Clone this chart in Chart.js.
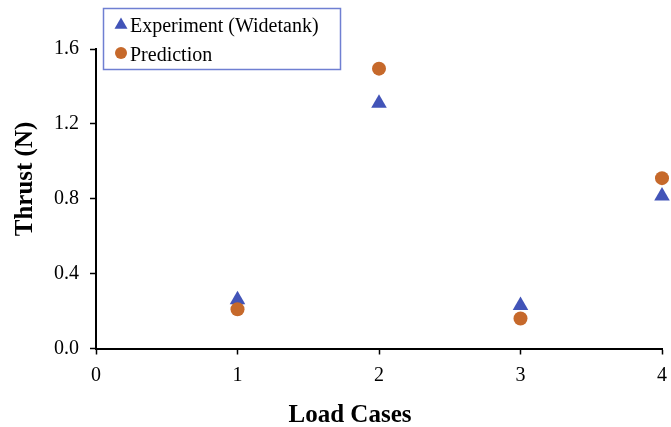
<!DOCTYPE html>
<html>
<head>
<meta charset="utf-8">
<script src="https://cdn.jsdelivr.net/npm/chart.js@4/dist/chart.umd.min.js"></script>
<style>
html,body{margin:0;padding:0;background:#fff;}
#wrap{width:671px;height:427px;position:relative;}
</style>
</head>
<body>
<div id="wrap"><canvas id="c" width="671" height="427"></canvas></div>
<script>
const loadCases = [1, 2, 3, 4];
const experimentThrust = [0.26, 1.31, 0.23, 0.815];
const predictionThrust = [0.21, 1.495, 0.16, 0.91];
const seriesLabels = ['Experiment (Widetank)', 'Prediction'];
const xTitle = 'Load Cases';
const yTitle = 'Thrust (N)';

const BLUE = '#4254B8';
const ORANGE = '#C6692B';
const FONT = "'Liberation Serif', 'Times New Roman', serif";

const overlay = {
  id: 'overlay',
  afterDraw(chart) {
    const ctx = chart.ctx;
    ctx.save();
    // axis titles
    ctx.fillStyle = '#000';
    ctx.font = 'bold 25px ' + FONT;
    ctx.textAlign = 'center';
    ctx.textBaseline = 'alphabetic';
    ctx.fillText(xTitle, 350, 422);
    ctx.save();
    ctx.translate(32, 179);
    ctx.rotate(-Math.PI / 2);
    ctx.fillText(yTitle, 0, 0);
    ctx.restore();
    // legend box
    ctx.fillStyle = '#fff';
    ctx.fillRect(103, 8, 237, 61);
    ctx.strokeStyle = '#6F7FD2';
    ctx.lineWidth = 1.5;
    ctx.strokeRect(103.5, 8.5, 237, 61);
    const ds = chart.data.datasets;
    const items = [
      {ds: ds.find(d => d.label === seriesLabels[0]), y: 25, ty: 32},
      {ds: ds.find(d => d.label === seriesLabels[1]), y: 53, ty: 61}
    ];
    items.forEach(it => {
      ctx.fillStyle = it.ds.backgroundColor;
      ctx.beginPath();
      if (it.ds.pointStyle === 'triangle') {
        const r = 7.5;
        ctx.moveTo(121, it.y - r);
        ctx.lineTo(121 + r * 0.866, it.y + r / 2);
        ctx.lineTo(121 - r * 0.866, it.y + r / 2);
      } else {
        ctx.arc(121, it.y, 6, 0, Math.PI * 2);
      }
      ctx.closePath();
      ctx.fill();
      ctx.fillStyle = '#000';
      ctx.font = '20px ' + FONT;
      ctx.textAlign = 'left';
      ctx.fillText(it.ds.label, 130, it.ty);
    });
    ctx.restore();
  }
};

new Chart(document.getElementById('c'), {
  type: 'scatter',
  data: {
    datasets: [
      {
        label: seriesLabels[0],
        data: loadCases.map((x, i) => ({x, y: experimentThrust[i]})),
        pointStyle: 'triangle',
        pointRadius: 9,
        pointHoverRadius: 9,
        backgroundColor: BLUE,
        borderColor: BLUE,
        borderWidth: 0,
        clip: false,
        order: 2
      },
      {
        label: seriesLabels[1],
        data: loadCases.map((x, i) => ({x, y: predictionThrust[i]})),
        pointStyle: 'circle',
        pointRadius: 7,
        pointHoverRadius: 7,
        backgroundColor: ORANGE,
        borderColor: ORANGE,
        borderWidth: 0,
        clip: false,
        order: 1
      }
    ]
  },
  options: {
    responsive: false,
    animation: false,
    layout: {padding: {top: 49, right: 8, left: 0, bottom: 0}},
    plugins: {legend: {display: false}, tooltip: {enabled: false}},
    scales: {
      x: {
        type: 'linear',
        min: 0, max: 4,
        ticks: {stepSize: 1, color: '#000', font: {family: FONT, size: 20}, padding: 9},
        grid: {drawOnChartArea: false, drawTicks: true, tickLength: 6, tickColor: '#000', tickWidth: 1.5},
        border: {color: '#000', width: 2},
        afterFit(s) { s.height = 78.5; s.paddingLeft = 0; s.paddingRight = 0; }
      },
      y: {
        min: 0, max: 1.6,
        ticks: {stepSize: 0.4, color: '#000', font: {family: FONT, size: 20}, padding: 11,
          callback: v => Number(v).toFixed(1)},
        grid: {drawOnChartArea: false, drawTicks: true, tickLength: 6, tickColor: '#000', tickWidth: 1.5},
        border: {color: '#000', width: 2},
        afterFit(s) { s.width = 96; s.paddingTop = 0; s.paddingBottom = 0; }
      }
    }
  },
  plugins: [overlay]
});
</script>
</body>
</html>
